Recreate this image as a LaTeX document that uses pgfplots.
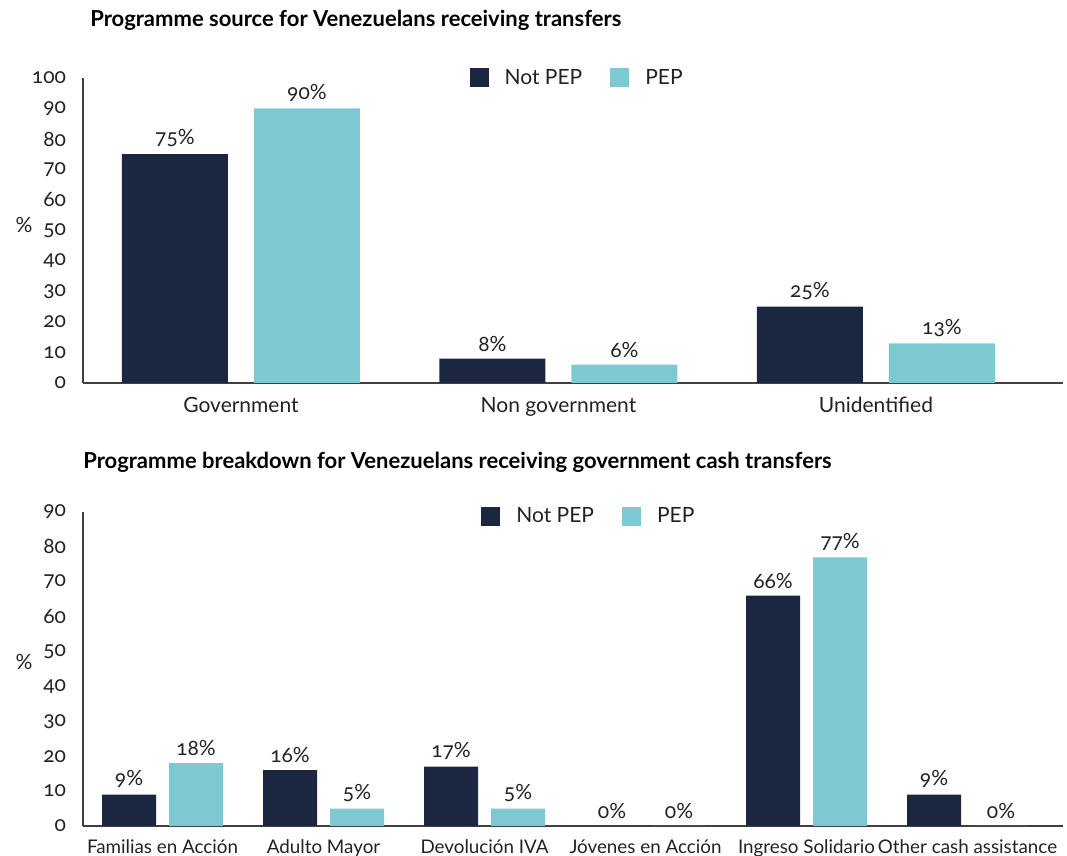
\documentclass[border=0pt]{standalone}
\usepackage{fontspec}
\setmainfont{Lato}[Numbers=OldStyle]
\usepackage{pgfplots}
\pgfplotsset{compat=1.18}
\definecolor{mynavy}{HTML}{1B2740}
\definecolor{myteal}{HTML}{7CC9D1}
\definecolor{txt}{HTML}{222222}
\pgfplotsset{
  sqlegend/.style={legend image code/.code={\fill[##1] (0pt,-4.75pt) rectangle (9.5pt,4.75pt); \path (15.5pt,0pt);}},
  mybase/.style={
    scale only axis, width=490pt,
    axis x line=bottom, axis y line=left,
    axis line style={-, black!75, line width=0.8pt},
    major tick length=0pt,
    ybar,
    /pgf/number format/assume math mode=true,
    tick label style={font=\fontsize{10.5}{12}\selectfont, text=txt},
    yticklabel style={xshift=-5pt},
    xticklabel style={yshift=-3.5pt},
    nodes near coords={\pgfmathprintnumber{\pgfplotspointmeta}\%},
    every node near coord/.append style={font=\fontsize{10.5}{12}\selectfont, text=txt},
    legend columns=2,
    legend style={draw=none, fill=none, font=\fontsize{10.5}{12}\selectfont, text=txt,
      /tikz/every even column/.append style={column sep=12pt}},
  }
}
\begin{document}
\begin{tikzpicture}
\node[anchor=west, font=\bfseries\fontsize{11}{13}\selectfont, text=black, inner sep=0pt] at (45pt,418pt) {Programme source for Venezuelans receiving transfers};
\node[anchor=center, font=\fontsize{10.5}{12}\selectfont, text=txt] at (12pt,315.5pt) {\%};
\begin{axis}[mybase,
  at={(41.5pt,236.5pt)}, anchor=south west,
  height=152.5pt,
  xmin=-0.4976, xmax=2.589, ymin=0, ymax=100,
  ytick={0,10,...,100},
  xtick={0,1,2}, xticklabels={Government, Non government, Unidentified},
  bar width=53pt, ybar=13pt,
  legend style={at={(0.388,1.0)}, anchor=west},
]
\addplot[fill=mynavy, draw=none, sqlegend] coordinates {(0,75) (1,8) (2,25)};
\addplot[fill=myteal, draw=none, sqlegend] coordinates {(0,90) (1,6) (2,13)};
\legend{Not PEP, PEP}
\end{axis}
\node[anchor=west, font=\bfseries\fontsize{11}{13}\selectfont, text=black, inner sep=0pt] at (41.5pt,197pt) {Programme breakdown for Venezuelans receiving government cash transfers};
\node[anchor=center, font=\fontsize{10.5}{12}\selectfont, text=txt] at (12pt,97pt) {\%};
\begin{axis}[mybase,
  at={(41.5pt,15pt)}, anchor=south west,
  height=157pt,
  xmin=-0.494, xmax=5.593, ymin=0, ymax=90,
  ytick={0,10,...,90},
  xtick={0,...,5}, xticklabels={Familias en Acción, Adulto Mayor, Devolución IVA, Jóvenes en Acción, Ingreso Solidario, Other cash assistance},
  xticklabel style={font=\fontsize{9.4}{11}\selectfont},
  bar width=27pt, ybar=6.5pt,
  legend style={at={(0.4,0.985)}, anchor=west},
]
\addplot[fill=mynavy, draw=none, sqlegend] coordinates {(0,9) (1,16) (2,17) (3,0) (4,66) (5,9)};
\addplot[fill=myteal, draw=none, sqlegend] coordinates {(0,18) (1,5) (2,5) (3,0) (4,77) (5,0)};
\legend{Not PEP, PEP}
\end{axis}
\pgfresetboundingbox
\useasboundingbox (0pt,0pt) rectangle (533.5pt,428pt);
\end{tikzpicture}
\end{document}
